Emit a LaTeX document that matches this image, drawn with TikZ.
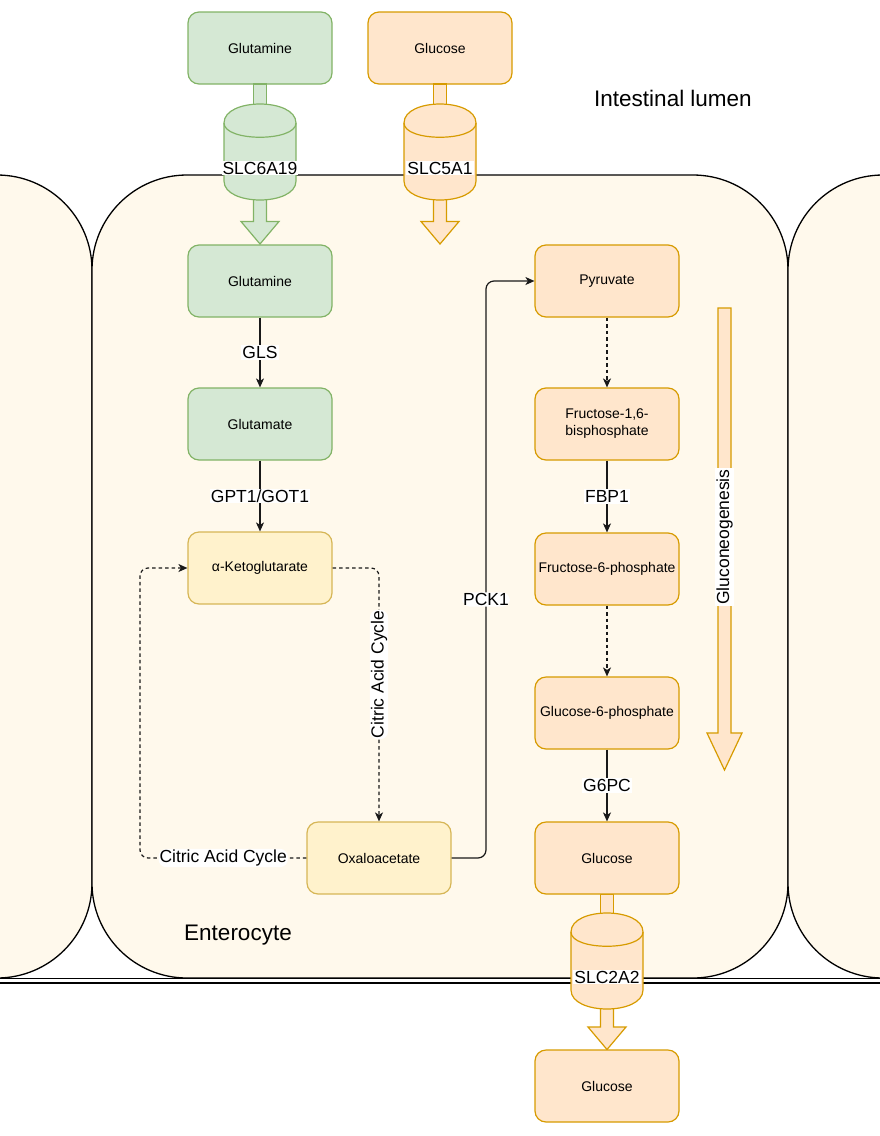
\documentclass[tikz,border=0pt]{standalone}
\usepackage{fontspec}
\setmainfont{Liberation Sans}
\usetikzlibrary{arrows.meta}
\definecolor{gfill}{HTML}{D5E8D4}
\definecolor{gline}{HTML}{82B366}
\definecolor{ofill}{HTML}{FFE6CC}
\definecolor{oline}{HTML}{D79B00}
\definecolor{yfill}{HTML}{FFF2CC}
\definecolor{yline}{HTML}{D6B656}
\definecolor{cellfill}{HTML}{FFF9EC}
\newcommand{\mycyl}[4]{%
  \draw[line width=1.2pt, draw=#4, fill=#3]
    (#1-36,#2+19) .. controls (#1-36,#2-6.33) and (#1+36,#2-6.33) .. (#1+36,#2+19)
    -- (#1+36,#2+77) .. controls (#1+36,#2+102.33) and (#1-36,#2+102.33) .. (#1-36,#2+77) -- cycle;
  \draw[line width=1.2pt, draw=#4]
    (#1-36,#2+19) .. controls (#1-36,#2+38) and (#1+36,#2+38) .. (#1+36,#2+19);
}
\newcommand{\myshaft}[5]{% cx, y1, y2, fill, line
  \draw[line width=1.2pt, draw=#5, fill=#4] (#1-6.5,#2) rectangle (#1+6.5,#3);
}
\newcommand{\myflex}[6]{% cx, ystart, headbase, tip, fill, line
  \draw[line width=1.2pt, draw=#6, fill=#5, line join=miter]
    (#1-6.5,#2) -- (#1-6.5,#3) -- (#1-19,#3) -- (#1,#4) -- (#1+19,#3) -- (#1+6.5,#3) -- (#1+6.5,#2) -- cycle;
}
\begin{document}
\begin{tikzpicture}[x=1pt,y=-1pt,
  box/.style={rounded corners=11pt, minimum width=144pt, minimum height=72pt, inner sep=0pt,
    font=\fontsize{14}{17}\selectfont, align=center, line width=1.2pt},
  gbox/.style={box, draw=gline, fill=gfill},
  obox/.style={box, draw=oline, fill=ofill},
  ybox/.style={box, draw=yline, fill=yfill},
  cell/.style={draw=black, line width=1.3pt, fill=cellfill, rounded corners=95pt},
  lbl/.style={fill=white, inner sep=1pt, font=\fontsize{17.5}{20}\selectfont},
  conn/.style={draw=black!90, line width=1.2pt, -{Stealth[length=9pt,width=8pt,inset=2.5pt]}},
  dconn/.style={conn, dash pattern=on 3.5pt off 3pt},
  big/.style={font=\fontsize{22.5}{26}\selectfont}]
\useasboundingbox (0,0) rectangle (880,1136);
% cells
\begin{scope}
\clip (0,0) rectangle (880,1136);
\draw[cell] (-700,175) rectangle (92,978);
\draw[cell] (92,175) rectangle (788,978);
\draw[cell] (788,175) rectangle (1600,978);
\end{scope}
\draw[line width=1.2pt] (0,978.5) -- (880,978.5);
\draw[line width=1.2pt] (0,983) -- (880,983);

% outer boxes
\node[gbox] (gln1) at (260,48) {Glutamine};
\node[obox] (glc1) at (440,48) {Glucose};

% transporters top
\myshaft{260}{84}{110}{gfill}{gline}
\myflex{260}{195}{221.5}{244}{gfill}{gline}
\mycyl{260}{104}{gfill}{gline}
\node[lbl] (slc6) at (260,168) {SLC6A19};

\myshaft{440}{84}{110}{ofill}{oline}
\myflex{440}{195}{221.5}{244}{ofill}{oline}
\mycyl{440}{104}{ofill}{oline}
\node[lbl] (slc5) at (440,168) {SLC5A1};

% bottom transporter
\myshaft{607}{894}{920}{ofill}{oline}
\myflex{607}{1004}{1027}{1049.5}{ofill}{oline}
\mycyl{607}{913}{ofill}{oline}
\node[lbl] (slc2) at (607,977) {SLC2A2};

% gluconeogenesis arrow
\draw[line width=1.2pt, draw=oline, fill=ofill, line join=miter]
  (718,308) -- (718,733) -- (707,733) -- (724.5,770) -- (742,733) -- (731,733) -- (731,308) -- cycle;
\node[lbl, rotate=90] (gng) at (724.5,537) {Gluconeogenesis};

% cell content
\node[gbox] (gln2) at (260,281) {Glutamine};
\node[gbox] (glu) at (260,424) {Glutamate};
\node[ybox] (akg) at (260,568) {α-Ketoglutarate};
\node[ybox] (oaa) at (379,858) {Oxaloacetate};
\node[obox] (pyr) at (607,281) {Pyruvate};
\node[obox] (f16) at (607,424) {Fructose-1,6-\\bisphosphate};
\node[obox] (f6p) at (607,569) {Fructose-6-phosphate};
\node[obox] (g6p) at (607,713) {Glucose-6-phosphate};
\node[obox] (glc2) at (607,858) {Glucose};
\node[obox] (glc3) at (607,1086) {Glucose};

\draw[conn] (gln2) -- node[lbl] {GLS} (glu);
\draw[conn] (glu) -- node[lbl] {GPT1/GOT1} (akg);
\draw[dconn, rounded corners=8pt] (akg.east) -| node[pos=0.71, lbl, rotate=90] {Citric Acid Cycle} (oaa.north);
\coordinate (lc) at (140,858);
\draw[dconn, rounded corners=8pt] (oaa.west) -- node[lbl] {Citric Acid Cycle} (lc) |- (akg.west);
\coordinate (pk) at (486,858);
\draw[conn, rounded corners=8pt] (oaa.east) -- (pk) |- node[pos=0.224, lbl] {PCK1} (pyr.west);
\draw[dconn] (pyr) -- (f16);
\draw[conn] (f16) -- node[lbl] {FBP1} (f6p);
\draw[dconn] (f6p) -- (g6p);
\draw[conn] (g6p) -- node[lbl] {G6PC} (glc2);

\node[big] (lumen) at (673,98) {Intestinal lumen};
\node[big] (ent) at (238,935) {Enterocyte};
\end{tikzpicture}
\end{document}
